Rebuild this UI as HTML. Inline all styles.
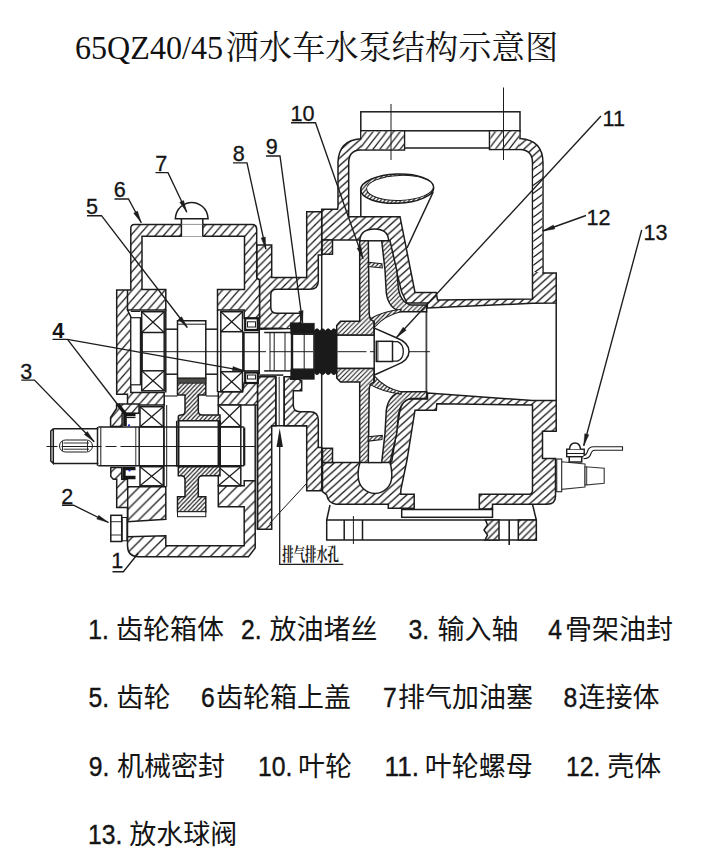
<!DOCTYPE html>
<html lang="zh"><head><meta charset="utf-8"><title>65QZ40/45洒水车水泵结构示意图</title>
<style>
html,body{margin:0;padding:0;background:#fff;}
body{width:720px;height:858px;overflow:hidden;font-family:"Liberation Sans",sans-serif;}
svg{display:block;position:absolute;left:0;top:0;}
.lbl{font-family:"Liberation Sans",sans-serif;font-size:21.6px;fill:#141414;stroke:#141414;stroke-width:0.3px;}
.t{position:absolute;color:transparent;white-space:nowrap;font-family:"Liberation Sans",sans-serif;margin:0;}
.lg{font-family:"Liberation Sans","Noto Sans CJK SC",sans-serif;font-size:27px;fill:#141414;}
.ln{font-family:"Liberation Sans",sans-serif;font-size:27.5px;fill:#141414;stroke:#141414;stroke-width:0.4px;}
</style></head><body>
<svg width="720" height="858" viewBox="0 0 720 858">
<defs>
<pattern id="h9" patternUnits="userSpaceOnUse" width="10.8" height="10.8"><rect width="10.8" height="10.8" fill="#fff"/><path d="M-2.16,2.16 L2.16,-2.16 M-1.08,11.88 L11.88,-1.08 M8.64,12.96 L12.96,8.64" stroke="#1c1c1c" stroke-width="1.3" fill="none"/></pattern>
<pattern id="h8" patternUnits="userSpaceOnUse" width="8.2" height="9.4"><rect width="8.2" height="9.4" fill="#fff"/><path d="M-1.64,1.88 L1.64,-1.88 M-0.82,10.34 L9.02,-0.94 M6.56,11.28 L9.84,7.52" stroke="#1c1c1c" stroke-width="1.3" fill="none"/></pattern>
<pattern id="h7" patternUnits="userSpaceOnUse" width="7.5" height="7.5"><rect width="7.5" height="7.5" fill="#fff"/><path d="M-1.50,1.50 L1.50,-1.50 M-0.75,8.25 L8.25,-0.75 M6.00,9.00 L9.00,6.00" stroke="#1c1c1c" stroke-width="1.3" fill="none"/></pattern>
<pattern id="h6" patternUnits="userSpaceOnUse" width="6.8" height="6.8"><rect width="6.8" height="6.8" fill="#fff"/><path d="M-1.36,1.36 L1.36,-1.36 M-0.68,7.48 L7.48,-0.68 M5.44,8.16 L8.16,5.44" stroke="#1c1c1c" stroke-width="1.3" fill="none"/></pattern>
<pattern id="hC" patternUnits="userSpaceOnUse" width="8.3" height="7.5"><rect width="8.3" height="7.5" fill="#fff"/><path d="M-1.66,1.50 L1.66,-1.50 M-0.83,8.25 L9.13,-0.75 M6.64,9.00 L9.96,6.00" stroke="#1c1c1c" stroke-width="1.3" fill="none"/></pattern>
<pattern id="hF" patternUnits="userSpaceOnUse" width="6.8" height="8.7"><rect width="6.8" height="8.7" fill="#fff"/><path d="M-1.36,1.74 L1.36,-1.74 M-0.68,9.57 L7.48,-0.87 M5.44,10.44 L8.16,6.96" stroke="#1c1c1c" stroke-width="1.3" fill="none"/></pattern>
<pattern id="hW" patternUnits="userSpaceOnUse" width="10.7" height="8.0"><rect width="10.7" height="8.0" fill="#fff"/><path d="M-2.14,1.60 L2.14,-1.60 M-1.07,8.80 L11.77,-0.80 M8.56,9.60 L12.84,6.40" stroke="#1c1c1c" stroke-width="1.3" fill="none"/></pattern>
<pattern id="h5" patternUnits="userSpaceOnUse" width="4.7" height="4.7"><rect width="4.7" height="4.7" fill="#fff"/><path d="M-0.94,0.94 L0.94,-0.94 M-0.47,5.17 L5.17,-0.47 M3.76,5.64 L5.64,3.76" stroke="#1c1c1c" stroke-width="1.1" fill="none"/></pattern>
<pattern id="h4" patternUnits="userSpaceOnUse" width="4.2" height="4.4"><rect width="4.2" height="4.4" fill="#fff"/><path d="M-0.84,0.88 L0.84,-0.88 M-0.42,4.84 L4.62,-0.44 M3.36,5.28 L5.04,3.52" stroke="#1c1c1c" stroke-width="1.15" fill="none"/></pattern>
<pattern id="h3" patternUnits="userSpaceOnUse" width="3.0" height="3.0"><rect width="3.0" height="3.0" fill="#fff"/><path d="M-0.60,0.60 L0.60,-0.60 M-0.30,3.30 L3.30,-0.30 M2.40,3.60 L3.60,2.40" stroke="#1c1c1c" stroke-width="0.9" fill="none"/></pattern>
</defs>
<g id="drawing" stroke-linecap="butt" stroke-linejoin="miter">
<rect x="360.80" y="111.80" width="159.20" height="19.00" fill="none" stroke="#1c1c1c" stroke-width="1.5"/>
<line x1="404.50" y1="148.00" x2="489.50" y2="148.00" stroke="#1c1c1c" stroke-width="1.5"/>
<path d="M360.8,130.8 L404.5,130.8 L404.5,150 L360,150 Q348.7,150.5 348.7,163 L348.7,216.7 L400,216.7 L415,292.4 L436.2,292.4 L437.5,300 L532.5,298.9 L532.5,163 Q532.5,149.8 520,149.5 L489.5,149.5 L489.5,130.8 L520,130.8 L520,138.5 Q543,140 543,163 L543,273 L556.2,273 L556.2,303 L532.5,303.3 L427.3,308 L427.3,303.1 L406.9,303.1 L401.7,292 L388.6,240 C388,232.5 383,229 374.5,229 C366,229 360.5,232.5 359.9,240 L321.7,240 L321.7,209.2 L337.5,209.2 L338,206.7 L338,162 Q339,140 360.8,138.7 Z" fill="url(#hC)" stroke="#1c1c1c" stroke-width="1.5" />
<rect x="361.6" y="131.6" width="42.1" height="17.6" fill="url(#hF)"/>
<rect x="490.3" y="131.6" width="28.9" height="17.2" fill="url(#hF)"/>
<rect x="533.3" y="166" width="8.9" height="106" fill="url(#hW)"/>
<path d="M427.5,393.1 L532.5,400.6 L556.2,400.6 L556.2,431.3 L542.5,431.3 L542.5,458.5 L555.5,458.5 L555.5,496 Q555.5,504.2 547,504.2 L492.5,504.2 L492.5,509 L479.3,509 L479.3,494.2 L529,494.2 Q532.5,494.2 532.5,490 L532.5,405 L436.8,403.7 L436.3,410.2 L415,410.2 L407,460 L400.8,490 L400.8,494.2 L414.2,494.2 L414.2,508.3 L388.3,508.3 L388.3,504.2 L336,504.2 Q328,503 326.7,495 L322.5,491.7 L322.5,462.5 L360,462.5 Q357.5,470 358.3,476.7 A16.7,16.7 0 0 0 391.7,476.7 Q392.3,470 390,462.5 L391.7,461.7 L400,410.2 L403.7,398.9 L427.5,398.9 Z" fill="url(#hC)" stroke="#1c1c1c" stroke-width="1.5" />
<line x1="556.20" y1="303.00" x2="556.20" y2="400.50" stroke="#1c1c1c" stroke-width="1.5"/>
<line x1="426.40" y1="311.70" x2="426.40" y2="391.70" stroke="#444" stroke-width="1.8"/>
<rect x="321.70" y="240.00" width="10.80" height="14.20" fill="url(#h5)" stroke="#1c1c1c" stroke-width="1.5"/>
<rect x="322.50" y="448.30" width="10.00" height="14.20" fill="url(#h5)" stroke="#1c1c1c" stroke-width="1.5"/>
<line x1="321.70" y1="240.00" x2="321.70" y2="462.50" stroke="#1c1c1c" stroke-width="1.5"/>
<line x1="391.00" y1="104.00" x2="391.00" y2="160.00" stroke="#1c1c1c" stroke-width="1.0"/>
<line x1="503.50" y1="87.50" x2="503.50" y2="160.00" stroke="#1c1c1c" stroke-width="1.0"/>
<ellipse cx="397.2" cy="188.7" rx="36.6" ry="14.6" fill="url(#h4)" stroke="#1c1c1c" stroke-width="1.5" transform="rotate(-2 397.2 188.7)"/>
<ellipse cx="400" cy="187.9" rx="33.4" ry="12.5" fill="#fff" stroke="#1c1c1c" stroke-width="1.0" transform="rotate(-2 400 187.9)"/>
<line x1="360.80" y1="190.00" x2="360.80" y2="216.70" stroke="#1c1c1c" stroke-width="1.5"/>
<line x1="433.20" y1="192.00" x2="407.00" y2="248.00" stroke="#1c1c1c" stroke-width="1.5"/>
<rect x="401.70" y="509.50" width="90.80" height="7.80" fill="none" stroke="#1c1c1c" stroke-width="1.5"/>
<path d="M536.30,520.00 L326.70,520.00 L326.70,540.00 L536.30,540.00 Z" fill="none" stroke="#1c1c1c" stroke-width="1.5" />
<path d="M485.5,520 L499,520 L499,540 L485,540 L487.5,535 L484,530 L487.5,525 Z" fill="url(#h6)" stroke="#1c1c1c" stroke-width="1.5" />
<rect x="518.30" y="520.00" width="18.00" height="20.00" fill="url(#h6)" stroke="#1c1c1c" stroke-width="1.5"/>
<line x1="509.20" y1="520.00" x2="509.20" y2="545.00" stroke="#1c1c1c" stroke-width="1.6"/>
<line x1="344.20" y1="520.00" x2="344.20" y2="540.00" stroke="#1c1c1c" stroke-width="1.5"/>
<line x1="362.50" y1="520.00" x2="362.50" y2="540.00" stroke="#1c1c1c" stroke-width="1.5"/>
<line x1="353.40" y1="516.00" x2="353.40" y2="544.00" stroke="#1c1c1c" stroke-width="1.0"/>
<line x1="330.00" y1="505.00" x2="326.70" y2="520.00" stroke="#1c1c1c" stroke-width="1.5"/>
<line x1="532.50" y1="504.20" x2="536.30" y2="520.00" stroke="#1c1c1c" stroke-width="1.5"/>
<rect x="556.70" y="459.00" width="5.00" height="32.70" fill="#fff" stroke="#333" stroke-width="1.2"/>
<path d="M561.70,461.70 L585.00,464.00 L585.00,487.00 L561.70,489.30 Z" fill="#fff" stroke="#3a3a3a" stroke-width="1.15" />
<path d="M585.00,466.70 L604.20,468.30 L604.20,483.30 L585.00,485.00 Z" fill="#fff" stroke="#3a3a3a" stroke-width="1.15" />
<line x1="586.70" y1="466.70" x2="586.70" y2="485.00" stroke="#1c1c1c" stroke-width="0.9"/>
<rect x="569.20" y="456.00" width="12.50" height="6.00" fill="#fff" stroke="#1c1c1c" stroke-width="1.5"/>
<rect x="566.70" y="449.20" width="17.50" height="7.50" fill="#fff" stroke="#1c1c1c" stroke-width="1.4"/>
<line x1="566.70" y1="453.50" x2="584.20" y2="453.50" stroke="#1c1c1c" stroke-width="1.0"/>
<path d="M569.5,449.2 Q570,443 575,443 Q580,443 580.5,449.2" fill="#fff" stroke="#1c1c1c" stroke-width="1.5" />
<path d="M583.5,455.6 Q586.5,455 587.6,451 Q588.8,446.8 593.5,446.8 L622.5,446.8 L622.5,450.2 L594.5,450.2 Q591.8,450.4 590.8,454 Q589.6,458.6 583.5,458.8" fill="#fff" stroke="#1c1c1c" stroke-width="1.1" />
<path d="M256.7,245 L271.7,245 L271.7,277.5 L306.7,277.5 L306.7,211.7 L321.7,211.7 L321.7,255 L318.3,255 L318.3,281 Q318.3,289.2 310,289.2 L276.5,289.2 Q270.8,289.2 270.8,295 L270.8,307.5 Q270.8,313.3 277,313.3 L300.8,313.3 L300.8,323.3 L290.8,323.3 L290.8,328.5 L259.5,329.2 L259.5,280 L256.7,278 Z" fill="url(#h7)" stroke="#1c1c1c" stroke-width="1.5" />
<path d="M257.5,376.7 L275.8,376.7 L275.8,425.8 L271.7,425.8 L271.7,529.2 L257.5,529.2 Z" fill="url(#h7)" stroke="#1c1c1c" stroke-width="1.5" />
<path d="M284.2,376.7 L290.8,376.7 L290.8,379.2 L300,379.2 L300,380.8 L301.7,380.8 L301.7,390.8 L293.3,390.8 L293.3,405 Q293.3,411.7 300,411.7 L310,411.7 Q318.3,411.7 318.3,420 L318.3,447.5 L321.7,447.5 L321.7,490.8 L306.7,490.8 L306.7,425.8 L284.2,425.8 Z" fill="url(#h7)" stroke="#1c1c1c" stroke-width="1.5" />
<line x1="275.80" y1="376.70" x2="275.80" y2="425.80" stroke="#1c1c1c" stroke-width="1.5"/>
<line x1="279.20" y1="376.70" x2="279.20" y2="425.80" stroke="#1c1c1c" stroke-width="0.9"/>
<line x1="284.20" y1="376.70" x2="284.20" y2="425.80" stroke="#1c1c1c" stroke-width="1.5"/>
<line x1="271.70" y1="425.80" x2="306.70" y2="425.80" stroke="#1c1c1c" stroke-width="1.5"/>
<line x1="306.70" y1="483.30" x2="269.50" y2="523.50" stroke="#1c1c1c" stroke-width="1.0"/>
<line x1="257.50" y1="405.00" x2="257.50" y2="529.20" stroke="#1c1c1c" stroke-width="1.5"/>
<line x1="255.20" y1="405.00" x2="255.20" y2="481.00" stroke="#1c1c1c" stroke-width="1.5"/>
<path d="M130.8,228.5 Q130.8,224.5 134.5,224.5 L252,224.5 Q256.7,224.5 256.7,229.5 L256.7,278 L259.5,280 L259.5,318.3 L244.2,318.3 L244.2,310 L217.5,310 L217.5,289.5 L244.5,289.5 L244.5,236.3 L142,236.3 L142,289.5 L165.8,289.5 L165.8,310 L127.5,310 L130.8,316.7 L130.8,392.5 L164.2,392.5 L164.2,405 L127.5,405 L127.5,394.2 L116.7,394.2 L116.7,290 L130.8,290 Z" fill="url(#h8)" stroke="#1c1c1c" stroke-width="1.5" />
<line x1="127.50" y1="290.00" x2="127.50" y2="310.00" stroke="#1c1c1c" stroke-width="1.5"/>
<path d="M218.3,391.7 L242.5,391.7 L244.2,382.5 L257.5,382.5 L257.5,405 L218.3,405 Z" fill="url(#h8)" stroke="#1c1c1c" stroke-width="1.5" />
<rect x="130.80" y="317.70" width="9.60" height="67.10" fill="#fff" stroke="#1c1c1c" stroke-width="1.2"/>
<line x1="130.80" y1="311.50" x2="140.40" y2="311.50" stroke="#1c1c1c" stroke-width="1.0"/>
<path d="M110.8,467.5 L121.7,467.5 L121.7,479.2 L127.5,479.2 L127.5,486.7 L165.8,486.7 L165.8,519.2 L127.5,521.7 L127.5,507.5 L116.7,507.5 L116.7,479.2 L113.3,479.2 L110.8,476.5 Z" fill="url(#h9)" stroke="#1c1c1c" stroke-width="1.5" />
<path d="M127.5,536.7 L165.8,535.8 L165.8,545.8 L244.2,545.8 L244.2,506.7 L218.3,506.7 L218.3,485.8 L244.2,485.8 L244.2,480.8 L255.2,480.8 L255.2,548 L248.5,556.7 L138.5,556.7 Q127.5,556.7 127.5,545.5 Z" fill="url(#h9)" stroke="#1c1c1c" stroke-width="1.5" />
<line x1="127.50" y1="521.70" x2="127.50" y2="536.70" stroke="#1c1c1c" stroke-width="1.5"/>
<line x1="127.70" y1="486.70" x2="127.70" y2="521.70" stroke="#1c1c1c" stroke-width="1.5"/>
<path d="M116.6,404 L139,404 L139,413.3 L122.1,413.3 L122.1,426.4 L110.6,426.4 L110.6,417.5 L116.6,408.5 Z" fill="url(#h8)" stroke="#1c1c1c" stroke-width="1.5" />
<line x1="164.20" y1="405.00" x2="164.20" y2="486.70" stroke="#1c1c1c" stroke-width="1.0"/>
<line x1="166.70" y1="405.00" x2="166.70" y2="486.70" stroke="#1c1c1c" stroke-width="1.0"/>
<rect x="141.70" y="311.70" width="22.50" height="20.80" fill="#fff" stroke="#1c1c1c" stroke-width="1.5"/>
<line x1="141.70" y1="311.70" x2="164.20" y2="332.50" stroke="#1c1c1c" stroke-width="1.2"/>
<line x1="141.70" y1="332.50" x2="164.20" y2="311.70" stroke="#1c1c1c" stroke-width="1.2"/>
<rect x="141.70" y="370.80" width="22.50" height="20.00" fill="#fff" stroke="#1c1c1c" stroke-width="1.5"/>
<line x1="141.70" y1="370.80" x2="164.20" y2="390.80" stroke="#1c1c1c" stroke-width="1.2"/>
<line x1="141.70" y1="390.80" x2="164.20" y2="370.80" stroke="#1c1c1c" stroke-width="1.2"/>
<rect x="220.80" y="311.70" width="21.70" height="20.00" fill="#fff" stroke="#1c1c1c" stroke-width="1.5"/>
<line x1="220.80" y1="311.70" x2="242.50" y2="331.70" stroke="#1c1c1c" stroke-width="1.2"/>
<line x1="220.80" y1="331.70" x2="242.50" y2="311.70" stroke="#1c1c1c" stroke-width="1.2"/>
<rect x="220.80" y="371.70" width="21.70" height="20.00" fill="#fff" stroke="#1c1c1c" stroke-width="1.5"/>
<line x1="220.80" y1="371.70" x2="242.50" y2="391.70" stroke="#1c1c1c" stroke-width="1.2"/>
<line x1="220.80" y1="391.70" x2="242.50" y2="371.70" stroke="#1c1c1c" stroke-width="1.2"/>
<rect x="140.00" y="406.70" width="23.30" height="20.00" fill="#fff" stroke="#1c1c1c" stroke-width="1.5"/>
<line x1="140.00" y1="406.70" x2="163.30" y2="426.70" stroke="#1c1c1c" stroke-width="1.2"/>
<line x1="140.00" y1="426.70" x2="163.30" y2="406.70" stroke="#1c1c1c" stroke-width="1.2"/>
<rect x="140.00" y="466.70" width="23.30" height="19.10" fill="#fff" stroke="#1c1c1c" stroke-width="1.5"/>
<line x1="140.00" y1="466.70" x2="163.30" y2="485.80" stroke="#1c1c1c" stroke-width="1.2"/>
<line x1="140.00" y1="485.80" x2="163.30" y2="466.70" stroke="#1c1c1c" stroke-width="1.2"/>
<rect x="218.30" y="405.00" width="22.50" height="21.70" fill="#fff" stroke="#1c1c1c" stroke-width="1.5"/>
<line x1="218.30" y1="405.00" x2="240.80" y2="426.70" stroke="#1c1c1c" stroke-width="1.2"/>
<line x1="218.30" y1="426.70" x2="240.80" y2="405.00" stroke="#1c1c1c" stroke-width="1.2"/>
<rect x="218.30" y="466.70" width="22.50" height="19.10" fill="#fff" stroke="#1c1c1c" stroke-width="1.5"/>
<line x1="218.30" y1="466.70" x2="240.80" y2="485.80" stroke="#1c1c1c" stroke-width="1.2"/>
<line x1="218.30" y1="485.80" x2="240.80" y2="466.70" stroke="#1c1c1c" stroke-width="1.2"/>
<path d="M177.5,378.3 L177.5,320.8 L205.8,320.8 L205.8,378.3" fill="#fff" stroke="#1c1c1c" stroke-width="1.5" />
<line x1="177.50" y1="324.20" x2="205.80" y2="324.20" stroke="#1c1c1c" stroke-width="1.0"/>
<path d="M177.5,378.3 L205.8,378.3 L205.8,395 L198.3,395 L198.3,411 Q198.3,415 202.5,415 L220,415 L220,420.8 L178.3,420.8 L178.3,417 Q178.3,415 181,415 Q185,415 185,411 L185,395 L177.5,395 Z" fill="url(#h4)" stroke="#1c1c1c" stroke-width="1.5" />
<rect x="177.50" y="378.30" width="28.30" height="4.90" fill="#4a4a46" stroke="#1c1c1c" stroke-width="0.8"/>
<path d="M178.3,466.7 L220,466.7 L220,475.8 L202.5,475.8 Q198.3,475.8 198.3,480 L198.3,496.7 L205.8,496.7 L205.8,511.7 L177.5,511.7 L177.5,496.7 L185,496.7 L185,480 Q185,475.8 181,475.8 L178.3,475.8 Z" fill="url(#h4)" stroke="#1c1c1c" stroke-width="1.5" />
<rect x="177.50" y="511.70" width="28.30" height="5.00" fill="#fff" stroke="#1c1c1c" stroke-width="1.0"/>
<line x1="164.20" y1="396.00" x2="177.50" y2="396.00" stroke="#1c1c1c" stroke-width="1.1"/>
<line x1="205.80" y1="396.00" x2="218.30" y2="396.00" stroke="#1c1c1c" stroke-width="1.1"/>
<line x1="141.70" y1="333.00" x2="141.70" y2="370.50" stroke="#1c1c1c" stroke-width="2.4"/>
<line x1="164.20" y1="332.50" x2="164.20" y2="370.80" stroke="#1c1c1c" stroke-width="1.5"/>
<line x1="165.80" y1="310.00" x2="165.80" y2="392.50" stroke="#1c1c1c" stroke-width="1.5"/>
<line x1="165.80" y1="329.20" x2="177.50" y2="329.20" stroke="#1c1c1c" stroke-width="1.5"/>
<line x1="205.80" y1="329.20" x2="217.50" y2="329.20" stroke="#1c1c1c" stroke-width="1.5"/>
<line x1="165.80" y1="374.20" x2="177.50" y2="374.20" stroke="#1c1c1c" stroke-width="1.5"/>
<line x1="205.80" y1="374.20" x2="217.50" y2="374.20" stroke="#1c1c1c" stroke-width="1.5"/>
<line x1="217.50" y1="310.00" x2="217.50" y2="392.00" stroke="#1c1c1c" stroke-width="1.5"/>
<line x1="220.80" y1="331.70" x2="220.80" y2="371.70" stroke="#1c1c1c" stroke-width="1.5"/>
<line x1="243.40" y1="331.70" x2="243.40" y2="371.70" stroke="#1c1c1c" stroke-width="2.6"/>
<line x1="244.20" y1="332.50" x2="259.20" y2="332.50" stroke="#1c1c1c" stroke-width="1.5"/>
<line x1="244.20" y1="370.90" x2="259.20" y2="370.90" stroke="#1c1c1c" stroke-width="1.5"/>
<line x1="259.20" y1="329.20" x2="259.20" y2="374.20" stroke="#1c1c1c" stroke-width="1.6"/>
<line x1="259.20" y1="328.30" x2="283.30" y2="328.30" stroke="#1c1c1c" stroke-width="1.5"/>
<line x1="264.20" y1="332.50" x2="290.80" y2="332.50" stroke="#1c1c1c" stroke-width="1.5"/>
<line x1="259.20" y1="375.10" x2="283.30" y2="375.10" stroke="#1c1c1c" stroke-width="1.5"/>
<line x1="264.20" y1="370.90" x2="290.80" y2="370.90" stroke="#1c1c1c" stroke-width="1.5"/>
<line x1="270.00" y1="332.50" x2="270.00" y2="370.90" stroke="#1c1c1c" stroke-width="1.0"/>
<line x1="274.20" y1="332.50" x2="274.20" y2="370.90" stroke="#1c1c1c" stroke-width="1.0"/>
<line x1="285.00" y1="332.50" x2="285.00" y2="370.90" stroke="#1c1c1c" stroke-width="1.0"/>
<line x1="292.00" y1="332.50" x2="292.00" y2="370.90" stroke="#1c1c1c" stroke-width="2.4"/>
<line x1="304.20" y1="332.50" x2="304.20" y2="370.90" stroke="#1c1c1c" stroke-width="1.0"/>
<line x1="290.80" y1="334.20" x2="314.20" y2="334.20" stroke="#1c1c1c" stroke-width="1.5"/>
<line x1="290.80" y1="369.20" x2="314.20" y2="369.20" stroke="#1c1c1c" stroke-width="1.5"/>
<line x1="313.80" y1="333.50" x2="313.80" y2="370.00" stroke="#1c1c1c" stroke-width="1.0"/>
<line x1="336.70" y1="335.00" x2="374.20" y2="335.00" stroke="#1c1c1c" stroke-width="1.5"/>
<line x1="336.70" y1="368.40" x2="374.20" y2="368.40" stroke="#1c1c1c" stroke-width="1.5"/>
<line x1="141.70" y1="351.70" x2="266.00" y2="351.70" stroke="#1c1c1c" stroke-width="1.0"/>
<line x1="270.00" y1="351.70" x2="313.00" y2="351.70" stroke="#1c1c1c" stroke-width="1.0"/>
<line x1="337.50" y1="351.70" x2="366.50" y2="351.70" stroke="#1c1c1c" stroke-width="1.0"/>
<line x1="370.00" y1="351.70" x2="430.00" y2="351.70" stroke="#1c1c1c" stroke-width="1.0"/>
<path d="M53.3,428.7 L98.3,428.7 M53.3,463.4 L98.3,463.4 M53.3,428.7 L50.8,431 L50.8,461 L53.3,463.4 L53.3,428.7" fill="none" stroke="#1c1c1c" stroke-width="1.5" />
<line x1="97.50" y1="427.00" x2="97.50" y2="465.80" stroke="#1c1c1c" stroke-width="1.5"/>
<line x1="100.80" y1="427.00" x2="100.80" y2="465.80" stroke="#1c1c1c" stroke-width="1.0"/>
<line x1="98.30" y1="427.00" x2="244.20" y2="427.00" stroke="#1c1c1c" stroke-width="1.5"/>
<line x1="98.30" y1="465.80" x2="244.20" y2="465.80" stroke="#1c1c1c" stroke-width="1.5"/>
<line x1="139.20" y1="427.00" x2="139.20" y2="465.80" stroke="#1c1c1c" stroke-width="1.5"/>
<line x1="135.80" y1="427.00" x2="135.80" y2="465.80" stroke="#1c1c1c" stroke-width="0.9"/>
<line x1="163.80" y1="427.00" x2="163.80" y2="465.80" stroke="#1c1c1c" stroke-width="1.5"/>
<line x1="176.70" y1="420.80" x2="176.70" y2="466.70" stroke="#1c1c1c" stroke-width="1.5"/>
<line x1="178.50" y1="420.80" x2="178.50" y2="466.70" stroke="#1c1c1c" stroke-width="2.0"/>
<line x1="220.00" y1="420.80" x2="220.00" y2="466.70" stroke="#1c1c1c" stroke-width="2.0"/>
<line x1="218.30" y1="427.00" x2="218.30" y2="465.80" stroke="#1c1c1c" stroke-width="1.5"/>
<line x1="240.80" y1="427.00" x2="240.80" y2="465.80" stroke="#1c1c1c" stroke-width="1.5"/>
<line x1="244.20" y1="427.50" x2="244.20" y2="465.50" stroke="#1c1c1c" stroke-width="2.2"/>
<path d="M65.5,440 L86.5,440 A6,6 0 0 1 86.5,452 L65.5,452 A6,6 0 0 1 65.5,440 Z" fill="none" stroke="#1c1c1c" stroke-width="1.0" />
<line x1="63.50" y1="443.00" x2="89.00" y2="443.00" stroke="#1c1c1c" stroke-width="0.9"/>
<line x1="63.50" y1="449.20" x2="89.00" y2="449.20" stroke="#1c1c1c" stroke-width="0.9"/>
<line x1="62.50" y1="441.00" x2="62.50" y2="451.00" stroke="#1c1c1c" stroke-width="0.9"/>
<line x1="87.50" y1="441.00" x2="87.50" y2="451.00" stroke="#1c1c1c" stroke-width="0.9"/>
<line x1="46.50" y1="446.50" x2="255.00" y2="446.50" stroke="#1c1c1c" stroke-width="1.0" stroke-dasharray="11 4 40 4 11 4 200"/>
<path d="M336.70 325.50 L340.50 321.30 L359.70 321.30 L359.70 240.80 L368.30 240.80 L369.20 314.00 Q369.60 320.00 374.20 321.50 L374.20 335.00 L336.70 335.00 Z" fill="url(#h5)" stroke="#1c1c1c" stroke-width="1.5" />
<path d="M381.70 240.80 L390.00 240.80 L396.70 270.00 L398.30 287.00 Q400.00 302.50 411.00 304.90 L426.70 304.90 L426.70 311.70 L401.00 311.70 Q388.50 308.50 386.30 293.00 L385.00 270.00 Z" fill="url(#h5)" stroke="#1c1c1c" stroke-width="1.5" />
<path d="M368.30 262.30 L381.90 263.80 L382.30 268.00 L368.30 266.60 Z" fill="url(#h4)" stroke="#1c1c1c" stroke-width="1.1" />
<path d="M370.00 319.00 Q382.00 311.50 401.00 309.30 L401.00 311.70 Q385.00 315.00 374.20 327.50 L374.20 321.50 Z" fill="url(#h4)" stroke="#1c1c1c" stroke-width="1.1" />
<path d="M368.30 240.80 L381.70 240.80" fill="none" stroke="#1c1c1c" stroke-width="1.5" />
<path d="M336.70 377.90 L340.50 382.10 L359.70 382.10 L359.70 462.60 L368.30 462.60 L369.20 389.40 Q369.60 383.40 374.20 381.90 L374.20 368.40 L336.70 368.40 Z" fill="url(#h5)" stroke="#1c1c1c" stroke-width="1.5" />
<path d="M381.70 462.60 L390.00 462.60 L396.70 433.40 L398.30 416.40 Q400.00 400.90 411.00 398.50 L426.70 398.50 L426.70 391.70 L401.00 391.70 Q388.50 394.90 386.30 410.40 L385.00 433.40 Z" fill="url(#h5)" stroke="#1c1c1c" stroke-width="1.5" />
<path d="M368.30 441.10 L381.90 439.60 L382.30 435.40 L368.30 436.80 Z" fill="url(#h4)" stroke="#1c1c1c" stroke-width="1.1" />
<path d="M370.00 384.40 Q382.00 391.90 401.00 394.10 L401.00 391.70 Q385.00 388.40 374.20 375.90 L374.20 381.90 Z" fill="url(#h4)" stroke="#1c1c1c" stroke-width="1.1" />
<path d="M368.30 462.60 L381.70 462.60" fill="none" stroke="#1c1c1c" stroke-width="1.5" />
<line x1="336.70" y1="335.00" x2="336.70" y2="368.40" stroke="#1c1c1c" stroke-width="1.5"/>
<path d="M374.4,328.1 L396.3,337.7 Q409,342.5 409,351.5 Q409,360.5 396.3,365.1 L374.4,375" fill="#fff" stroke="#1c1c1c" stroke-width="1.5" />
<line x1="374.20" y1="321.50" x2="374.20" y2="381.90" stroke="#1c1c1c" stroke-width="1.5"/>
<rect x="376.30" y="341.30" width="16.20" height="20.20" fill="#fff" stroke="#1c1c1c" stroke-width="1.5"/>
<line x1="377.90" y1="341.30" x2="377.90" y2="361.50" stroke="#1c1c1c" stroke-width="0.9"/>
<path d="M392.5,341.6 L397.5,341.6 Q403.3,344 403.3,351.4 Q403.3,358.8 397.5,361.2 L392.5,361.2" fill="none" stroke="#1c1c1c" stroke-width="1.3" />
<path d="M314.2,331 Q317.0,326.5 319.8,331 Q322.6,326.5 325.4,331 Q328.2,326.5 331.0,331 Q333.9,326.5 336.7,331 L336.7,372.4 Q333.9,376.9 331.0,372.4 Q328.2,376.9 325.4,372.4 Q322.6,376.9 319.8,372.4 Q317.0,376.9 314.2,372.4 Z" fill="#1a1a1a" stroke="#1c1c1c" stroke-width="0.8" />
<rect x="290.80" y="323.30" width="23.40" height="10.20" fill="#1a1a1a" stroke="#1c1c1c" stroke-width="0.8"/>
<rect x="290.80" y="369.90" width="23.40" height="9.30" fill="#1a1a1a" stroke="#1c1c1c" stroke-width="0.8"/>
<rect x="245.20" y="318.30" width="12.60" height="11.70" fill="#fff" stroke="#161616" stroke-width="2.2"/>
<rect x="247.50" y="321.80" width="8.00" height="5.20" fill="#fff" stroke="#1c1c1c" stroke-width="1.0"/>
<rect x="245.20" y="372.50" width="12.60" height="10.50" fill="#fff" stroke="#161616" stroke-width="2.2"/>
<rect x="247.50" y="375.00" width="8.00" height="4.00" fill="#fff" stroke="#1c1c1c" stroke-width="1.0"/>
<path d="M118,404.5 L125,413.5 L125,426 M125,414.5 L135.5,414.5" fill="none" stroke="#161616" stroke-width="3.6" />
<path d="M126.5,417.5 L135.5,417.5" fill="none" stroke="#161616" stroke-width="1.2" />
<path d="M135.5,468.5 L124,468.5 L124,477.5 L135.5,477.5" fill="none" stroke="#161616" stroke-width="3.4" />
<circle cx="129" cy="425.3" r="1.1" fill="#1a1ad0"/>
<circle cx="129.5" cy="470.5" r="1.1" fill="#1a1ad0"/>
<rect x="181.60" y="219.50" width="21.00" height="17.10" fill="#fff" stroke="#1c1c1c" stroke-width="0"/>
<line x1="181.40" y1="219.00" x2="181.40" y2="236.30" stroke="#1c1c1c" stroke-width="1.5"/>
<line x1="202.80" y1="219.00" x2="202.80" y2="236.30" stroke="#1c1c1c" stroke-width="1.5"/>
<line x1="181.40" y1="224.40" x2="202.80" y2="224.40" stroke="#777" stroke-width="0.8"/>
<path d="M175.3,218.8 Q175.8,211 181,206.5 Q186,202.4 191.7,202.4 Q197.5,202.4 202.5,206.5 Q207.6,211 208.1,218.8 Z" fill="#fff" stroke="#1c1c1c" stroke-width="1.5" />
<rect x="110.80" y="515.30" width="10.90" height="26.20" fill="#fff" stroke="#1c1c1c" stroke-width="1.5"/>
<line x1="110.80" y1="521.70" x2="121.70" y2="521.70" stroke="#1c1c1c" stroke-width="0.9"/>
<line x1="110.80" y1="535.00" x2="121.70" y2="535.00" stroke="#1c1c1c" stroke-width="0.9"/>
<rect x="122.30" y="517.50" width="4.50" height="23.30" fill="#fff" stroke="#1c1c1c" stroke-width="1.0"/>
<path d="M279.7,446 L279.7,564.3 L343.3,564.3" fill="none" stroke="#1c1c1c" stroke-width="1.3" />
<polygon points="279.7,428.3 282.9,446.9 276.5,446.9" fill="#1c1c1c"/>
<text transform="translate(282.3 560.6) scale(0.63 1)" x="0" y="0" font-family="&quot;Liberation Serif&quot;,&quot;Noto Serif CJK SC&quot;,serif" font-size="18" font-weight="bold" fill="#1a1a1a">排气排水孔</text>
<text class="lbl" x="111.3" y="568.3">1</text>
<path d="M112.50,571.70 L123.30,571.70 L138.30,553.30" fill="none" stroke="#1c1c1c" stroke-width="1.35" />
<text class="lbl" x="61.3" y="503.8">2</text>
<path d="M62.00,505.20 L73.50,505.20 L108.50,522.50" fill="none" stroke="#1c1c1c" stroke-width="1.35" />
<polygon points="108.50,522.50 96.79,519.11 98.70,515.26" fill="#1c1c1c" stroke="#1c1c1c" stroke-width="0.4"/>
<text class="lbl" x="20.2" y="379.2">3</text>
<path d="M21.30,380.10 L34.50,380.10 L94.20,441.70" fill="none" stroke="#1c1c1c" stroke-width="1.35" />
<polygon points="94.20,441.70 84.30,434.58 87.39,431.59" fill="#1c1c1c" stroke="#1c1c1c" stroke-width="0.4"/>
<text class="lbl" x="52.2" y="337.6" font-weight="bold" style="stroke-width:0">4</text>
<path d="M52.50,339.30 L67.50,339.30 L244.50,370.80" fill="none" stroke="#1c1c1c" stroke-width="1.35" />
<polygon points="244.50,370.80 232.31,370.81 233.06,366.58" fill="#1c1c1c" stroke="#1c1c1c" stroke-width="0.4"/>
<path d="M67.50,339.30 L118.80,406.00" fill="none" stroke="#1c1c1c" stroke-width="1.35" />
<text class="lbl" x="86.0" y="213.8">5</text>
<path d="M87.00,215.70 L101.50,215.70 L187.30,327.50" fill="none" stroke="#1c1c1c" stroke-width="1.35" />
<polygon points="187.30,327.50 178.29,319.29 181.70,316.67" fill="#1c1c1c" stroke="#1c1c1c" stroke-width="0.4"/>
<text class="lbl" x="113.8" y="197.2">6</text>
<path d="M114.50,199.00 L128.50,199.00 L141.30,222.70" fill="none" stroke="#1c1c1c" stroke-width="1.35" />
<polygon points="141.30,222.70 133.71,213.16 137.49,211.12" fill="#1c1c1c" stroke="#1c1c1c" stroke-width="0.4"/>
<text class="lbl" x="155.2" y="171.3">7</text>
<path d="M155.50,172.60 L168.00,172.60 L186.80,212.20" fill="none" stroke="#1c1c1c" stroke-width="1.35" />
<polygon points="186.80,212.20 179.71,202.28 183.60,200.44" fill="#1c1c1c" stroke="#1c1c1c" stroke-width="0.4"/>
<text class="lbl" x="232.8" y="161.0">8</text>
<path d="M233.00,162.80 L247.00,162.80 L265.80,249.20" fill="none" stroke="#1c1c1c" stroke-width="1.35" />
<polygon points="265.80,249.20 261.15,237.93 265.35,237.02" fill="#1c1c1c" stroke="#1c1c1c" stroke-width="0.4"/>
<text class="lbl" x="265.8" y="154.0">9</text>
<path d="M266.00,156.00 L280.00,156.00 L302.60,322.80" fill="none" stroke="#1c1c1c" stroke-width="1.35" />
<polygon points="302.60,322.80 298.86,311.20 303.12,310.62" fill="#1c1c1c" stroke="#1c1c1c" stroke-width="0.4"/>
<text class="lbl" x="290.6" y="121.0">10</text>
<path d="M291.00,122.70 L315.50,122.70 L363.00,258.80" fill="none" stroke="#1c1c1c" stroke-width="1.35" />
<polygon points="363.00,258.80 357.02,248.18 361.08,246.76" fill="#1c1c1c" stroke="#1c1c1c" stroke-width="0.4"/>
<text class="lbl" x="602.5" y="125.6">11</text>
<path d="M601.00,116.00 L396.50,337.50" fill="none" stroke="#1c1c1c" stroke-width="1.35" />
<polygon points="396.50,337.50 403.06,327.22 406.22,330.14" fill="#1c1c1c" stroke="#1c1c1c" stroke-width="0.4"/>
<text class="lbl" x="586.5" y="225.2">12</text>
<path d="M586.00,215.50 L542.80,231.00" fill="none" stroke="#1c1c1c" stroke-width="1.35" />
<polygon points="542.80,231.00 553.37,224.92 554.82,228.97" fill="#1c1c1c" stroke="#1c1c1c" stroke-width="0.4"/>
<text class="lbl" x="643.5" y="240.0">13</text>
<path d="M641.70,230.00 L583.70,445.80" fill="none" stroke="#1c1c1c" stroke-width="1.35" />
<polygon points="583.70,445.80 584.74,433.65 588.89,434.77" fill="#1c1c1c" stroke="#1c1c1c" stroke-width="0.4"/>
</g>
<g id="txt">
<text x="75" y="58.8" font-family="&quot;Liberation Serif&quot;,serif" font-size="33" fill="#111" textLength="148" lengthAdjust="spacingAndGlyphs">65QZ40/45</text>
<text x="225.5" y="59" font-family="&quot;Liberation Serif&quot;,&quot;Noto Serif CJK SC&quot;,serif" font-size="33.27" fill="#151515">洒水车水泵结构示意图</text>

<text class="ln" x="88.3" y="639" textLength="20.6" lengthAdjust="spacingAndGlyphs">1.</text>
<text class="lg" x="116" y="639">齿轮箱体</text>
<text class="ln" x="241" y="639" textLength="20.6" lengthAdjust="spacingAndGlyphs">2.</text>
<text class="lg" x="269.5" y="639">放油堵丝</text>
<text class="ln" x="408.5" y="639" textLength="20.6" lengthAdjust="spacingAndGlyphs">3.</text>
<text class="lg" x="437.5" y="639">输入轴</text>
<text class="ln" x="548.3" y="639" textLength="13.75" lengthAdjust="spacingAndGlyphs">4</text>
<text class="lg" x="565" y="639">骨架油封</text>

<text class="ln" x="88.6" y="707.2" textLength="20.6" lengthAdjust="spacingAndGlyphs">5.</text>
<text class="lg" x="116.6" y="707.2">齿轮</text>
<text class="ln" x="201" y="707.2" textLength="13.75" lengthAdjust="spacingAndGlyphs">6</text>
<text class="lg" x="216" y="707.2">齿轮箱上盖</text>
<text class="ln" x="383" y="707.2" textLength="13.75" lengthAdjust="spacingAndGlyphs">7</text>
<text class="lg" x="398" y="707.2">排气加油塞</text>
<text class="ln" x="563.4" y="707.2" textLength="13.75" lengthAdjust="spacingAndGlyphs">8</text>
<text class="lg" x="578.5" y="707.2">连接体</text>

<text class="ln" x="88.8" y="775.5" textLength="20.6" lengthAdjust="spacingAndGlyphs">9.</text>
<text class="lg" x="117" y="775.5">机械密封</text>
<text class="ln" x="258.1" y="775.5" textLength="34.4" lengthAdjust="spacingAndGlyphs">10.</text>
<text class="lg" x="298" y="775.5">叶轮</text>
<text class="ln" x="384.6" y="775.5" textLength="34.4" lengthAdjust="spacingAndGlyphs">11.</text>
<text class="lg" x="424.7" y="775.5">叶轮螺母</text>
<text class="ln" x="566.1" y="775.5" textLength="34.4" lengthAdjust="spacingAndGlyphs">12.</text>
<text class="lg" x="607.3" y="775.5">壳体</text>

<text class="ln" x="88.1" y="843.5" textLength="34.4" lengthAdjust="spacingAndGlyphs">13.</text>
<text class="lg" x="129.3" y="843.5">放水球阀</text>
</g>
</svg>
</body></html>
